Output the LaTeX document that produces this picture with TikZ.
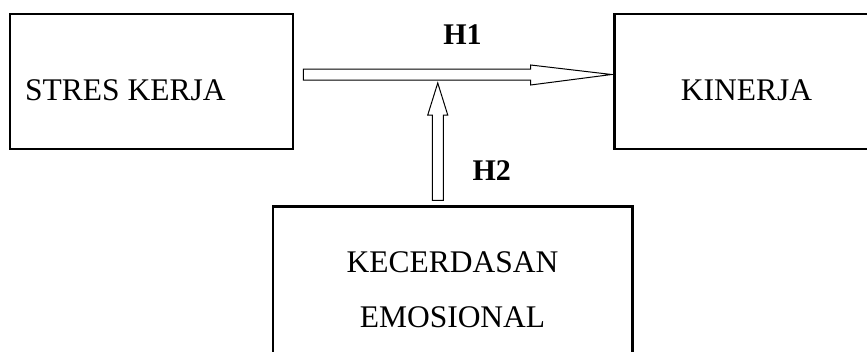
\documentclass[tikz,border=0pt]{standalone}
\usepackage{fontspec}
\setmainfont{Liberation Serif}
\usetikzlibrary{calc}
\begin{document}
\begin{tikzpicture}[x=1pt,y=-1pt,
  box/.style={draw=black, line width=2.7pt, fill=white, inner sep=0pt},
  lbl/.style={anchor=base, inner sep=0pt, font=\fontsize{31.5}{38}\selectfont},
  hlbl/.style={anchor=base, inner sep=0pt, font=\fontsize{30}{36}\selectfont\bfseries},
  blockarrow/.style={draw=black, line width=1pt, fill=white, line join=miter}]
\useasboundingbox (0,0) rectangle (867,351);
\clip (0,0) rectangle (867,351);
% boxes
\node[box, minimum width=283pt, minimum height=135pt] (stres) at (151.5,81.5) {};
\node[box, minimum width=300pt, minimum height=135pt] (kinerja) at (764.5,81.5) {};
\node[box, minimum width=359.5pt, minimum height=200pt] (kec) at (452.75,306.5) {};
% labels
\node[lbl, anchor=base west] (tstres) at (25,100) {STRES KERJA};
\node[lbl] (tkin) at (746.5,100) {KINERJA};
\node[lbl] (tkec1) at (452.5,272.7) {KECERDASAN};
\node[lbl] (tkec2) at (452.5,327.7) {EMOSIONAL};
\node[hlbl] (h1) at (462.5,44.3) {H1};
\node[hlbl] (h2) at (491.7,180) {H2};
% H1 block arrow
\coordinate (h1s) at ($(stres.east)+(9,-7)$);
\coordinate (h1t) at ($(kinerja.west)+(-1.5,-7)$);
\draw[blockarrow] ($(h1s)+(0,-5.5)$) -- ($(h1t)+(-81,-5.5)$) -- ($(h1t)+(-81,-9.5)$)
  -- (h1t) -- ($(h1t)+(-81,10.5)$) -- ($(h1t)+(-81,5.5)$) -- ($(h1s)+(0,5.5)$) -- cycle;
% H2 block arrow
\coordinate (h2b) at ($(kec.north)+(-15,-4.8)$);
\coordinate (h2t) at (h2b |- 0,83);
\draw[blockarrow] ($(h2b)+(-5.5,0)$) -- ($(h2t)+(-5.5,32)$) -- ($(h2t)+(-10,32)$)
  -- (h2t) -- ($(h2t)+(10,32)$) -- ($(h2t)+(5.5,32)$) -- ($(h2b)+(5.5,0)$) -- cycle;
\end{tikzpicture}
\end{document}
